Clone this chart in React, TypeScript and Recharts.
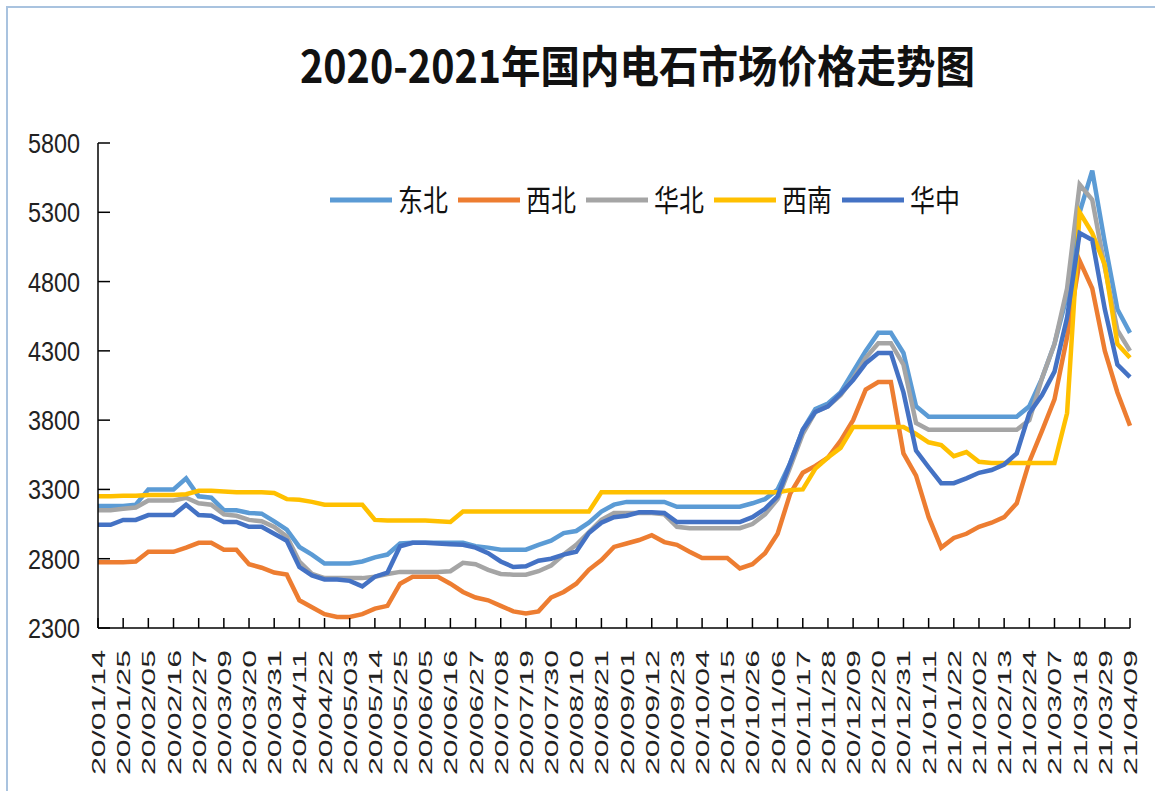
import { LineChart, Line, XAxis, YAxis, Legend } from 'recharts';

const dates = [
  '20/01/14', '20/01/19', '20/01/25', '20/01/30', '20/02/05', '20/02/10', '20/02/16', '20/02/21', '20/02/27', '20/03/03',
  '20/03/09', '20/03/14', '20/03/20', '20/03/25', '20/03/31', '20/04/05', '20/04/11', '20/04/16', '20/04/22', '20/04/27',
  '20/05/03', '20/05/08', '20/05/14', '20/05/19', '20/05/25', '20/05/30', '20/06/05', '20/06/10', '20/06/16', '20/06/21',
  '20/06/27', '20/07/02', '20/07/08', '20/07/13', '20/07/19', '20/07/24', '20/07/30', '20/08/04', '20/08/10', '20/08/15',
  '20/08/21', '20/08/26', '20/09/01', '20/09/06', '20/09/12', '20/09/17', '20/09/23', '20/09/28', '20/10/04', '20/10/09',
  '20/10/15', '20/10/20', '20/10/26', '20/10/31', '20/11/06', '20/11/11', '20/11/17', '20/11/22', '20/11/28', '20/12/03',
  '20/12/09', '20/12/14', '20/12/20', '20/12/25', '20/12/31', '21/01/05', '21/01/11', '21/01/16', '21/01/22', '21/01/27',
  '21/02/02', '21/02/07', '21/02/13', '21/02/18', '21/02/24', '21/03/01', '21/03/07', '21/03/12', '21/03/18', '21/03/23',
  '21/03/29', '21/04/03', '21/04/09',
];

const tickDates = [
  '20/01/14', '20/01/25', '20/02/05', '20/02/16', '20/02/27', '20/03/09', '20/03/20', '20/03/31', '20/04/11', '20/04/22',
  '20/05/03', '20/05/14', '20/05/25', '20/06/05', '20/06/16', '20/06/27', '20/07/08', '20/07/19', '20/07/30', '20/08/10',
  '20/08/21', '20/09/01', '20/09/12', '20/09/23', '20/10/04', '20/10/15', '20/10/26', '20/11/06', '20/11/17', '20/11/28',
  '20/12/09', '20/12/20', '20/12/31', '21/01/11', '21/01/22', '21/02/02', '21/02/13', '21/02/24', '21/03/07', '21/03/18',
  '21/03/29', '21/04/09',
];

const yTicks = [2300, 2800, 3300, 3800, 4300, 4800, 5300, 5800];

// 东北
const dongbei = [
  3180, 3180, 3180, 3190, 3300, 3300, 3300, 3380, 3250, 3240,
  3150, 3150, 3130, 3125, 3070, 3010, 2885, 2830, 2765, 2765,
  2765, 2780, 2810, 2830, 2910, 2915, 2915, 2915, 2915, 2915,
  2890, 2880, 2865, 2865, 2865, 2900, 2930, 2985, 3000, 3060,
  3140, 3190, 3210, 3210, 3210, 3210, 3175, 3175, 3175, 3175,
  3175, 3175, 3200, 3230, 3300, 3490, 3730, 3880, 3920, 4000,
  4150, 4300, 4430, 4430, 4285, 3900, 3825, 3825, 3825, 3825,
  3825, 3825, 3825, 3825, 3900, 4100, 4350, 4700, 5300, 5600,
  5080, 4600, 4430,
];

// 西北
const xibei = [
  2775, 2775, 2775, 2780, 2850, 2850, 2850, 2880, 2915, 2915,
  2865, 2865, 2760, 2735, 2700, 2685, 2500, 2450, 2400, 2380,
  2380, 2400, 2440, 2460, 2620, 2670, 2670, 2670, 2620, 2560,
  2520, 2500, 2460, 2420, 2405, 2420, 2520, 2560, 2620, 2720,
  2790, 2885, 2910, 2935, 2970, 2920, 2900, 2850, 2805, 2805,
  2805, 2730, 2760, 2840, 2980, 3270, 3420, 3470, 3530, 3650,
  3800, 4020, 4075, 4075, 3560, 3400, 3100, 2880, 2950, 2980,
  3030, 3060, 3100, 3200, 3500, 3720, 3950, 4400, 4950, 4750,
  4300, 4000, 3760,
];

// 华北
const huabei = [
  3150, 3150, 3160, 3170, 3220, 3220, 3220, 3240, 3200, 3190,
  3120, 3110, 3080, 3070, 3030, 2960, 2780, 2690, 2660, 2660,
  2660, 2660, 2670, 2690, 2705, 2705, 2705, 2705, 2710, 2770,
  2760, 2720, 2690, 2685, 2685, 2710, 2750, 2830, 2900, 2990,
  3080, 3130, 3130, 3130, 3130, 3120, 3030, 3020, 3020, 3020,
  3020, 3020, 3050, 3120, 3230, 3460, 3700, 3860, 3900, 3980,
  4100, 4250, 4355, 4355, 4200, 3780, 3730, 3730, 3730, 3730,
  3730, 3730, 3730, 3730, 3800, 4100, 4350, 4750, 5500, 5390,
  4900, 4450, 4300,
];

// 西南
const xinan = [
  3250, 3250, 3255, 3255, 3260, 3260, 3260, 3265, 3290, 3290,
  3285, 3280, 3280, 3280, 3275, 3230, 3225, 3210, 3190, 3190,
  3190, 3190, 3080, 3075, 3075, 3075, 3075, 3070, 3065, 3140,
  3140, 3140, 3140, 3140, 3140, 3140, 3140, 3140, 3140, 3140,
  3280, 3280, 3280, 3280, 3280, 3280, 3280, 3280, 3280, 3280,
  3280, 3280, 3280, 3280, 3280, 3295, 3300, 3450, 3530, 3600,
  3750, 3750, 3750, 3750, 3750, 3700, 3640, 3620, 3540, 3570,
  3500, 3490, 3490, 3490, 3490, 3490, 3490, 3850, 5300, 5150,
  4920, 4350, 4250,
];

// 华中
const huazhong = [
  3045, 3045, 3080, 3080, 3115, 3115, 3115, 3190, 3115, 3110,
  3065, 3065, 3030, 3030, 2980, 2930, 2740, 2680, 2650, 2650,
  2640, 2600, 2670, 2700, 2890, 2915, 2915, 2910, 2905, 2900,
  2880, 2840, 2780, 2740, 2745, 2785, 2800, 2830, 2850, 2985,
  3060, 3100, 3110, 3135, 3135, 3130, 3065, 3065, 3065, 3065,
  3065, 3065, 3100, 3160, 3250, 3490, 3730, 3860, 3900, 3990,
  4090, 4210, 4285, 4285, 4000, 3580, 3460, 3345, 3345, 3380,
  3420, 3440, 3480, 3560, 3850, 3980, 4150, 4540, 5150, 5100,
  4600, 4200, 4110,
];

const series = [
  { key: '东北', color: '#5B9BD5', values: dongbei },
  { key: '西北', color: '#ED7D31', values: xibei },
  { key: '华北', color: '#A5A5A5', values: huabei },
  { key: '西南', color: '#FFC000', values: xinan },
  { key: '华中', color: '#4472C4', values: huazhong },
];

const rows = dates.map((date, i) => {
  const row: Record<string, string | number> = { date };
  series.forEach((s) => { row[s.key] = s.values[i]; });
  return row;
});

const numFont = '"Liberation Sans", Arial, sans-serif';
const cjkFont = '"Noto Sans CJK SC", "Noto Sans", sans-serif';

function YTick({ x, y, payload }: any) {
  return (
    <g>
      <line x1={x} x2={x + 12} y1={y} y2={y} stroke="#000" strokeWidth={1.5} />
      <text x={x - 18} y={y + 10} textAnchor="end" fontSize={28} fontFamily={numFont}
        fill="#222" textLength={52} lengthAdjust="spacingAndGlyphs">{payload.value}</text>
    </g>
  );
}

function XTick({ x, y, payload }: any) {
  return (
    <g>
      <line x1={x} x2={x} y1={y} y2={y - 10} stroke="#000" strokeWidth={1.5} />
      <text transform={`translate(${x + 7},${y + 22}) rotate(-90)`} textAnchor="end" fontSize={19}
        fontFamily={numFont} fill="#222" textLength={125} lengthAdjust="spacingAndGlyphs">{payload.value}</text>
    </g>
  );
}

function LegendBox() {
  return (
    <svg width={660} height={50} style={{ overflow: 'visible' }}>
      {series.map((s, i) => (
        <g key={s.key} transform={`translate(${i * 128},0)`}>
          <line x1={0} x2={62} y1={24} y2={24} stroke={s.color} strokeWidth={5} />
          <text x={68} y={35} fontSize={30} fontFamily={cjkFont} fill="#111"
            textLength={50} lengthAdjust="spacingAndGlyphs">{s.key}</text>
        </g>
      ))}
    </svg>
  );
}

export default function App() {
  return (
    <div style={{ position: 'absolute', left: 0, top: 0, width: 1155, height: 791, background: '#fff' }}>
      <div style={{ position: 'absolute', left: 6, top: 6, right: 0, bottom: 0,
        borderLeft: '2px solid #A9C3DF', borderTop: '2px solid #A9C3DF' }} />
      <svg width={1155} height={110} style={{ position: 'absolute', left: 0, top: 0 }}>
        <text x={300} y={83} fontSize={44} fontWeight="bold" fontFamily={cjkFont} fill="#111"
          textLength={675} lengthAdjust="spacingAndGlyphs">2020-2021年国内电石市场价格走势图</text>
      </svg>
      <div style={{ position: 'absolute', left: 0, top: 0 }}>
        <LineChart width={1155} height={791} data={rows} margin={{ top: 143, right: 25, bottom: 13, left: 0 }}>
          <XAxis dataKey="date" ticks={tickDates} interval={0} height={100} tickSize={0} tickMargin={0}
            tickLine={false} axisLine={{ stroke: '#000', strokeWidth: 1.5 }} tick={<XTick />} />
          <YAxis domain={[2300, 5800]} ticks={yTicks} width={98} tickSize={0} tickMargin={0}
            tickLine={false} axisLine={{ stroke: '#000', strokeWidth: 1.5 }} tick={<YTick />} />
          <Legend content={<LegendBox />}
            wrapperStyle={{ position: 'absolute', left: 330, top: 176, width: 660, height: 50 }} />
          {series.map((s) => (
            <Line key={s.key} dataKey={s.key} stroke={s.color} strokeWidth={4.5} dot={false}
              type="linear" isAnimationActive={false} />
          ))}
        </LineChart>
      </div>
    </div>
  );
}
